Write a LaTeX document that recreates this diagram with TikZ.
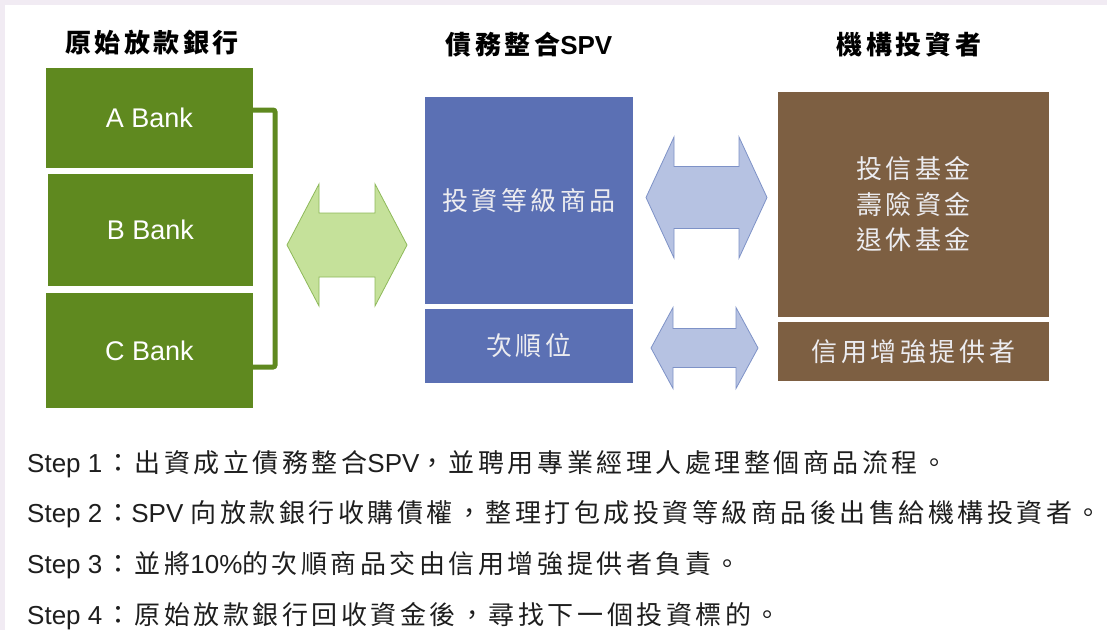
\documentclass[tikz,border=0pt]{standalone}
\usepackage{fontspec}
\setmainfont{Liberation Sans}
\newfontfamily\cjk{Noto Sans CJK TC}[LetterSpace=13.5]
\newcommand\zh[1]{{\cjk #1}}
\newcommand\stepcolon{\kern3pt\zh{：}}
\definecolor{bgpurple}{RGB}{241,235,243}
\definecolor{bankgreen}{RGB}{95,137,31}
\definecolor{garrowfill}{RGB}{197,225,154}
\definecolor{garrowline}{RGB}{142,185,90}
\definecolor{spvblue}{RGB}{91,112,180}
\definecolor{barrowfill}{RGB}{182,194,226}
\definecolor{barrowline}{RGB}{126,146,199}
\definecolor{invbrown}{RGB}{125,95,66}
\definecolor{boxtext}{RGB}{236,236,240}
\definecolor{steptextcol}{RGB}{30,30,30}
% #1 style, #2 left tip x, #3 right tip x, #4 head length, #5 centre y, #6 shaft half height, #7 head half height
\newcommand\dblarrow[7]{%
  \draw[#1] (#2,#5) -- ({#2+#4},{#5+#7}) -- ({#2+#4},{#5+#6}) -- ({#3-#4},{#5+#6})
    -- ({#3-#4},{#5+#7}) -- (#3,#5) -- ({#3-#4},{#5-#7}) -- ({#3-#4},{#5-#6})
    -- ({#2+#4},{#5-#6}) -- ({#2+#4},{#5-#7}) -- cycle;}
\tikzset{
  bank/.style={rectangle, inner sep=0pt, fill=bankgreen, text=white, font=\fontsize{27}{32}\selectfont},
  spvbox/.style={rectangle, inner sep=0pt, fill=spvblue, text=boxtext, font=\cjk\fontsize{26}{32}\selectfont},
  invbox/.style={rectangle, inner sep=0pt, fill=invbrown, text=boxtext, align=center, font=\cjk\fontsize{26}{35.5}\selectfont},
  title/.style={inner sep=0pt, text=black, font=\bfseries\fontsize{26}{32}\selectfont},
  steptext/.style={inner sep=0pt, anchor=base west, text=steptextcol, font=\fontsize{26}{30}\selectfont},
  garrow/.style={fill=garrowfill, draw=garrowline, line width=0.8pt, line join=miter},
  barrow/.style={fill=barrowfill, draw=barrowline, line width=0.8pt, line join=miter},
  bracketline/.style={draw=bankgreen, line width=5pt, rounded corners=2pt}
}
\begin{document}
\begin{tikzpicture}[x=1pt,y=1pt]
\useasboundingbox (0,0) rectangle (1107,-630);
\fill[bgpurple] (0,0) rectangle (1107,-630);
\fill[white] (5,-5) rectangle (1107,-630);

% titles
\node[title] (t1) at (152,-43) {\zh{原始放款銀行}};
\node[title] (t2) at (529,-45) {\zh{債務整合}SPV};
\node[title] (t3) at (909,-45) {\zh{機構投資者}};

% banks
\node[bank, minimum width=207pt, minimum height=100pt] (A) at (149.5,-118) {A Bank};
\node[bank, minimum width=205pt, minimum height=112pt] (B) at (150.5,-230) {B Bank};
\node[bank, minimum width=207pt, minimum height=115pt] (C) at (149.5,-350.5) {C Bank};
\draw[bracketline] ([yshift=8pt]A.east) -- (275,-110) -- (275,-367) -- ([yshift=-16.5pt]C.east);

% SPV
\node[spvbox, minimum width=208pt, minimum height=207pt] (S1) at (529,-200.5) {投資等級商品};
\node[spvbox, minimum width=208pt, minimum height=74pt] (S2) at (529,-346) {次順位};

% investors
\node[invbox, minimum width=271pt, minimum height=225pt] (I1) at (913.5,-204.5) {投信基金\\壽險資金\\退休基金};
\node[invbox, minimum width=271pt, minimum height=59pt] (I2) at (913.5,-351.5) {信用增強提供者};

% arrows
\dblarrow{garrow}{287}{407}{32}{-245}{32}{61}
\dblarrow{barrow}{646}{767}{28}{-197.5}{31}{60.5}
\dblarrow{barrow}{651}{758}{22}{-348}{19.5}{40.5}

% steps
\node[steptext] (s1) at (27,-472) {Step 1\stepcolon\zh{出資成立債務整合}SPV\zh{，並聘用專業經理人處理整個商品流程。}};
\node[steptext] (s2) at (27,-522) {Step 2\stepcolon SPV \zh{向放款銀行收購債權，整理打包成投資等級商品後出售給機構投資者。}};
\node[steptext] (s3) at (27,-573) {Step 3\stepcolon\zh{並將}10\%\zh{的次順商品交由信用增強提供者負責。}};
\node[steptext] (s4) at (27,-624) {Step 4\stepcolon\zh{原始放款銀行回收資金後，尋找下一個投資標的。}};
\end{tikzpicture}
\end{document}
